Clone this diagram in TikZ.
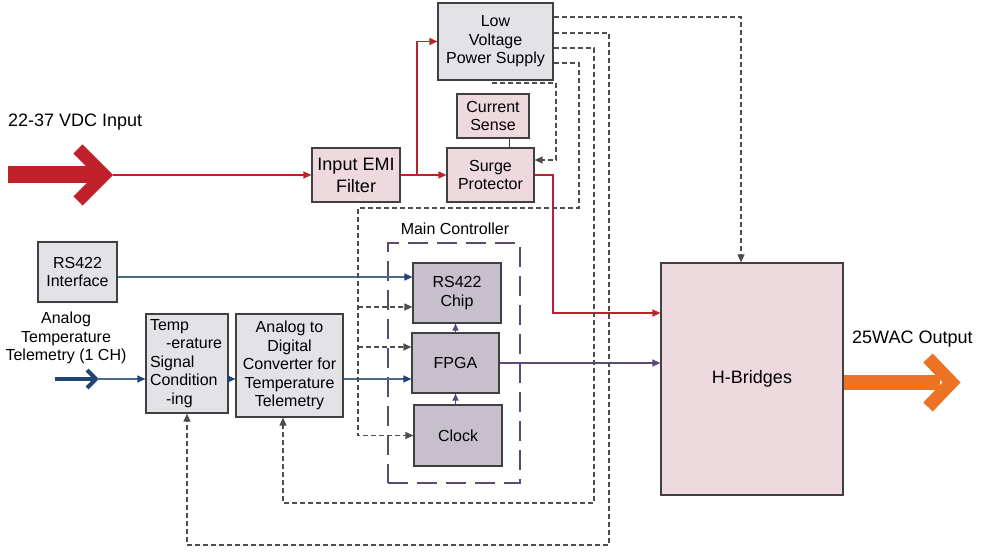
\documentclass[tikz,border=0pt]{standalone}
\usepackage{fontspec}
\setmainfont{Liberation Sans}
\usetikzlibrary{arrows.meta,calc}
\definecolor{pinkfill}{HTML}{EDD9DE}
\definecolor{grayfill}{HTML}{E3E2E7}
\definecolor{purplefill}{HTML}{C8BFCC}
\definecolor{boxline}{HTML}{404040}
\definecolor{redc}{HTML}{C0202A}
\definecolor{orangec}{HTML}{ED7324}
\definecolor{bluec}{HTML}{4A6A92}
\definecolor{bluedark}{HTML}{1F4577}
\definecolor{purplec}{HTML}{5A4A7C}
\definecolor{dashc}{HTML}{4D4D4D}
\begin{document}
\begin{tikzpicture}[x=1bp,y=-1bp,
  box/.style={draw=boxline, line width=1.2bp, inner sep=0pt, align=center,
    font=\fontsize{16bp}{18.5bp}\selectfont},
  pinkbox/.style={box, fill=pinkfill},
  graybox/.style={box, fill=grayfill},
  purplebox/.style={box, fill=purplefill},
  arrowtip/.style={-{Triangle[length=8bp,width=7bp]}},
  redline/.style={draw=redc, line width=1.2bp, arrowtip},
  blueline/.style={draw=bluec, line width=1.2bp, -{Triangle[length=8bp,width=7bp,color=bluedark]}},
  purpleline/.style={draw=purplec, line width=1.2bp, -{Triangle[length=7bp,width=6bp]}},
  dashline/.style={draw=dashc, line width=1.3bp, dash pattern=on 5bp off 3bp, arrowtip},
  lbl/.style={font=\fontsize{18bp}{22bp}\selectfont, inner sep=0pt},
  smalllbl/.style={font=\fontsize{16bp}{18.5bp}\selectfont, inner sep=0pt, align=center}
]
\useasboundingbox (0,0) rectangle (982,552);

% boxes
\node[pinkbox, minimum width=88bp, minimum height=54bp, font=\fontsize{18bp}{22bp}\selectfont] (emi) at (356,175) {Input EMI\\Filter};
\node[graybox, minimum width=115bp, minimum height=77bp] (lvps) at (495.5,41.5) {Low\\Voltage\\Power Supply};
\node[pinkbox, minimum width=72bp, minimum height=44bp] (cs) at (493,116) {Current\\Sense};
\node[pinkbox, minimum width=87bp, minimum height=54bp] (surge) at (490.5,175) {Surge\\Protector};
\node[pinkbox, minimum width=182bp, minimum height=232bp, font=\fontsize{18bp}{22bp}\selectfont] (hb) at (752,379) {H-Bridges};
\node[graybox, minimum width=79bp, minimum height=60bp] (rsi) at (77.5,272) {RS422\\Interface};
\node[graybox, minimum width=82bp, minimum height=99bp, text width=74bp, align=left] (temp) at (187,363.5)
  {Temp\\\hspace*{16bp}-erature\\Signal\\Condition\\\hspace*{16bp}-ing};
\node[graybox, minimum width=107bp, minimum height=103bp] (adc) at (289.5,365.5)
  {Analog to\\Digital\\Converter for\\Temperature\\Telemetry};
\node[draw=purplec, line width=2bp, dash pattern=on 20bp off 9bp, minimum width=132bp, minimum height=240bp, inner sep=0pt] (mc) at (454,363) {};
\node[smalllbl] (mclbl) at (455,229) {Main Controller};
\node[purplebox, minimum width=88bp, minimum height=60bp] (chip) at (457,293) {RS422\\Chip};
\node[purplebox, minimum width=87bp, minimum height=60bp] (fpga) at (455.5,363) {FPGA};
\node[purplebox, minimum width=88bp, minimum height=61bp] (clock) at (458,435.5) {Clock};

% labels
\node[lbl, anchor=west] (vinlbl) at (8,122) {22-37 VDC Input};
\node[lbl, anchor=west] (outlbl) at (852,339) {25WAC Output};
\node[smalllbl] (anlbl) at (66,338) {Analog\\Temperature\\Telemetry (1 CH)};

% big input arrow
\coordinate (vin) at (113,175);
\draw[redc, line width=17bp] (8,175) -- (100,175);
\draw[redc, line width=13bp] (78,149) -- (104,175) -- (78,201);
\draw[redline] (vin) -- (emi.west);
\draw[redline] (emi.east) -- (surge.west);
\coordinate (br) at (417,175);
\draw[redline] (br) |- (lvps.west);
\coordinate (r1) at (553,313);
\draw[redline] (surge.east) -| (r1) -- (r1 -| hb.west);

% output arrow
\coordinate (o1) at (843,382);
\draw[orangec, line width=15bp] (o1 -| hb.east) -- (940,382);
\draw[orangec, line width=13bp] (928,358) -- (951.5,382.5) -- (928,407);

% current sense link
\draw[boxline, line width=1bp] (cs.south -| 509,0) -- (surge.north -| 509,0);

% RS422
\coordinate (b277) at (0,277);
\draw[blueline] (rsi.east |- b277) -- (chip.west |- b277);

% analog input
\coordinate (a379) at (0,379);
\draw[bluedark, line width=4bp] (55,379) -- (95,379);
\draw[bluedark, line width=4bp] (87,370) -- (96,379) -- (87,388);
\draw[blueline] (97,379) -- (temp.west |- a379);
\draw[blueline] (temp.east |- a379) -- (adc.west |- a379);
\draw[blueline] (adc.east |- a379) -- (fpga.west |- a379);

% main controller internal
\draw[purpleline] (fpga.north) -- (fpga.north |- chip.south);
\draw[purpleline] (clock.north -| fpga.north) -- (fpga.south);
\draw[draw=purplec, line width=1.2bp, -{Triangle[length=8bp,width=7bp]}] (fpga.east) -- (fpga.east -| hb.west);

% dashed power lines
\coordinate (d1) at (741,17);
\draw[dashline] (d1 -| lvps.east) -- (d1) -- (d1 |- hb.north);
\coordinate (d2a) at (609,33);
\coordinate (d2b) at (609,545);
\draw[dashline] (d2a -| lvps.east) -- (d2a) -- (d2b) -- (d2b -| temp.south) -- (temp.south);
\coordinate (d3a) at (594,48);
\coordinate (d3b) at (594,503);
\coordinate (d3c) at (283,503);
\draw[dashline] (d3a -| lvps.east) -- (d3a) -- (d3b) -- (d3c) -- (d3c |- adc.south);
\coordinate (d4a) at (579,63);
\coordinate (d4b) at (358,208);
\draw[dashline] (d4a -| lvps.east) -- (d4a) |- (d4b) -- (d4b |- clock.west) -- (clock.west);
\coordinate (d4c) at (358,307);
\coordinate (d4d) at (358,347);
\draw[dashline] (d4c) -- (d4c -| chip.west);
\draw[dashline] (d4d) -- (d4d -| fpga.west);
\coordinate (d5a) at (492,83);
\coordinate (d5b) at (556,160);
\draw[dashline] (d5a) -| (d5b) -- (d5b -| surge.east);
\end{tikzpicture}
\end{document}
